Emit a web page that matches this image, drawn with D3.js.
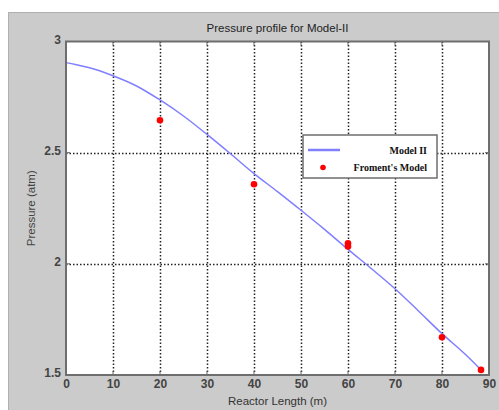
<!DOCTYPE html>
<html><head><meta charset="utf-8">
<script src="https://cdn.jsdelivr.net/npm/d3@7"></script>
<style>body{margin:0;background:#fff;}svg{display:block;}</style>
</head><body>
<script>
const lineX = [0, 2, 5, 10, 15, 20, 25, 30, 35, 40, 45, 50, 55, 60, 65, 70, 75, 80, 85, 88.3];
const lineY = [2.905, 2.897, 2.882, 2.846, 2.800, 2.737, 2.665, 2.582, 2.495, 2.406, 2.325, 2.241, 2.155, 2.065, 1.978, 1.888, 1.788, 1.686, 1.592, 1.523];
const ptX = [20, 40, 60, 60, 80, 88.3];
const ptY = [2.646, 2.358, 2.092, 2.078, 1.670, 1.523];
const xTicks = [0, 10, 20, 30, 40, 50, 60, 70, 80, 90];
const yTicks = [1.5, 2, 2.5, 3];
const yTickLabels = ["1.5", "2", "2.5", "3"];
const legendLabels = ["Model II", "Froment's Model"];

const W = 499, H = 410;
const svg = d3.select("body").append("svg").attr("width", W).attr("height", H);
svg.append("rect").attr("x", 8.5).attr("y", 12.5).attr("width", W).attr("height", H)
  .attr("fill", "#cbcbcb").attr("stroke", "#b0b0b0");

const L = 66, R = 489, T = 41.5, B = 375;
const x = d3.scaleLinear().domain([0, 90]).range([L, R]);
const y = d3.scaleLinear().domain([1.5, 3]).range([B, T]);

svg.append("rect").attr("x", L).attr("y", T).attr("width", R - L).attr("height", B - T).attr("fill", "#fff");

// grid
const g = svg.append("g");
g.selectAll(".gx").data(xTicks.slice(1, -1)).join("line")
  .attr("x1", d => Math.round(x(d)) + 0.5).attr("x2", d => Math.round(x(d)) + 0.5)
  .attr("y1", T).attr("y2", B).attr("stroke", "#222").attr("stroke-dasharray", "1.5,2").attr("stroke-width", 1.5);
g.selectAll(".gy").data(yTicks.slice(1, -1)).join("line")
  .attr("y1", d => Math.round(y(d)) + 0.5).attr("y2", d => Math.round(y(d)) + 0.5)
  .attr("x1", L).attr("x2", R).attr("stroke", "#222").attr("stroke-dasharray", "1.5,2").attr("stroke-width", 1.5);

// tick marks (inside)
const tk = svg.append("g").attr("stroke", "#666").attr("stroke-width", 1);
xTicks.forEach(d => {
  tk.append("line").attr("x1", x(d)).attr("x2", x(d)).attr("y1", T).attr("y2", T + 4);
  tk.append("line").attr("x1", x(d)).attr("x2", x(d)).attr("y1", B).attr("y2", B - 4);
});
yTicks.forEach(d => {
  tk.append("line").attr("y1", y(d)).attr("y2", y(d)).attr("x1", L).attr("x2", L + 4);
  tk.append("line").attr("y1", y(d)).attr("y2", y(d)).attr("x1", R).attr("x2", R - 4);
});

// axes labels via d3 axes (text only)
const xAxis = svg.append("g").attr("transform", `translate(0,${B})`)
  .call(d3.axisBottom(x).tickValues(xTicks).tickSize(0).tickPadding(4).tickFormat(d3.format("d")));
const yAxis = svg.append("g").attr("transform", `translate(${L},0)`)
  .call(d3.axisLeft(y).tickValues(yTicks).tickSize(0).tickPadding(5).tickFormat((d, i) => yTickLabels[i]));
[xAxis, yAxis].forEach(a => {
  a.select(".domain").remove();
  a.selectAll("text").attr("font-family", "Liberation Sans, Arial, sans-serif")
    .attr("font-size", 12).attr("font-weight", "bold").attr("fill", "#444");
});
yAxis.selectAll("text").attr("dy", "0.15em");

// data line
svg.append("path").datum(lineX.map((d, i) => [d, lineY[i]]))
  .attr("d", d3.line().x(d => x(d[0])).y(d => y(d[1])).curve(d3.curveMonotoneX))
  .attr("fill", "none").attr("stroke", "#7f7fff").attr("stroke-width", 1.5);

// points
svg.selectAll(".pt").data(ptX.map((d, i) => [d, ptY[i]])).join("circle")
  .attr("cx", d => x(d[0])).attr("cy", d => y(d[1])).attr("r", 3.3).attr("fill", "#ff0000");

// border
svg.append("rect").attr("x", L).attr("y", T).attr("width", R - L).attr("height", B - T)
  .attr("fill", "none").attr("stroke", "#6e6e6e").attr("stroke-width", 2);

// title and labels
svg.append("text").attr("x", (L + R) / 2).attr("y", 32).attr("text-anchor", "middle")
  .attr("font-family", "Liberation Sans, Arial, sans-serif").attr("font-size", 11.5).attr("fill", "#222")
  .text("Pressure profile for Model-II");
svg.append("text").attr("x", (L + R) / 2).attr("y", 405).attr("text-anchor", "middle")
  .attr("font-family", "Liberation Sans, Arial, sans-serif").attr("font-size", 11.5).attr("fill", "#333")
  .text("Reactor Length (m)");
svg.append("text").attr("transform", `translate(35,${(T + B) / 2}) rotate(-90)`).attr("text-anchor", "middle")
  .attr("font-family", "Liberation Sans, Arial, sans-serif").attr("font-size", 11.5).attr("fill", "#444")
  .text("Pressure (atm)");

// legend
const lg = svg.append("g");
lg.append("rect").attr("x", 303).attr("y", 135).attr("width", 134).attr("height", 43)
  .attr("fill", "#fff").attr("stroke", "#6e6e6e").attr("stroke-width", 1.5);
lg.append("line").attr("x1", 308).attr("x2", 340).attr("y1", 150).attr("y2", 150)
  .attr("stroke", "#7f7fff").attr("stroke-width", 2.5);
lg.append("circle").attr("cx", 323).attr("cy", 167.5).attr("r", 2.8).attr("fill", "#ff0000");
lg.selectAll(".lt").data(legendLabels).join("text")
  .attr("x", 427).attr("y", (d, i) => 153.5 + i * 17).attr("text-anchor", "end")
  .attr("font-family", "Liberation Serif, Times New Roman, serif").attr("font-weight", "bold")
  .attr("font-size", 10).attr("fill", "#111").text(d => d);
</script>
</body></html>
